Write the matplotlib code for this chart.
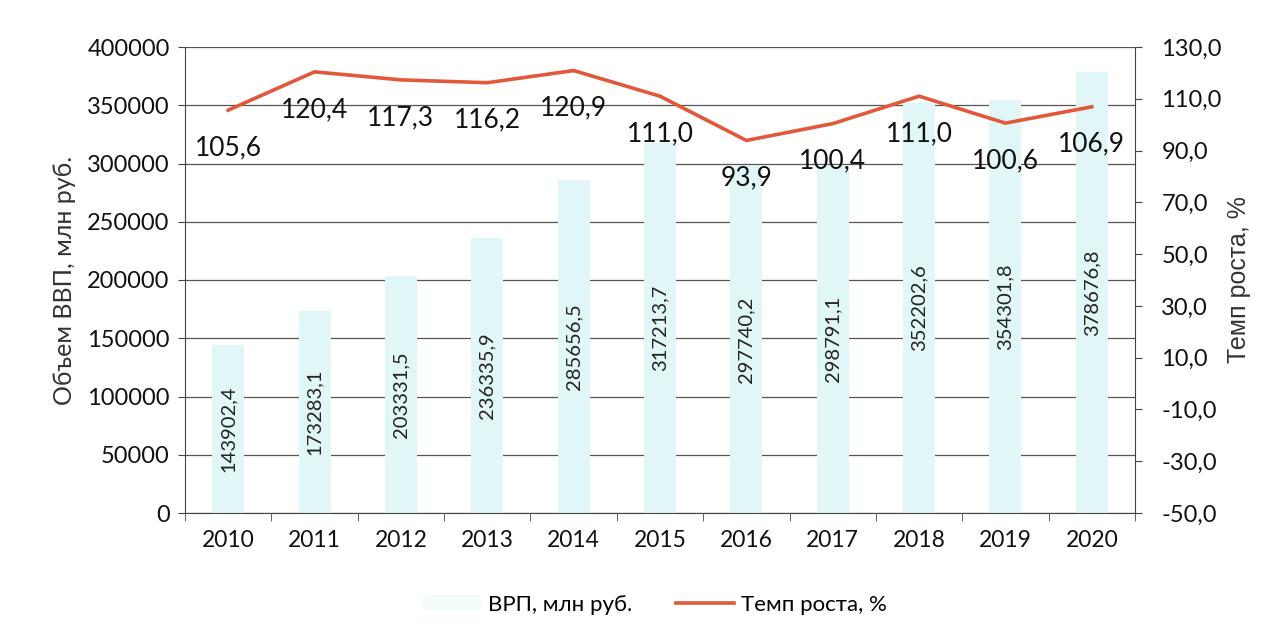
import matplotlib
matplotlib.use("Agg")
import matplotlib.pyplot as plt
import numpy as np

years = ["2010", "2011", "2012", "2013", "2014", "2015", "2016", "2017", "2018", "2019", "2020"]
grp = [143902.4, 173283.1, 203331.5, 236335.9, 285656.5, 317213.7, 297740.2, 298791.1, 352202.6, 354301.8, 378676.8]
growth = [105.6, 120.4, 117.3, 116.2, 120.9, 111.0, 93.9, 100.4, 111.0, 100.6, 106.9]

plt.rcParams['font.family'] = ['Lato', 'DejaVu Sans']

def fmt(v, d=1):
    return f"{v:.{d}f}".replace(".", ",")

fig = plt.figure(figsize=(12.82, 6.4), dpi=100)
ax = fig.add_axes([185/1282, 1-513/640, (1135-185)/1282, (513-47)/640])
x = np.arange(len(years))
bars = ax.bar(x, grp, width=0.37, color='#e0f6f7', zorder=2)
ax.set_ylim(0, 400000)
ax.set_xlim(-0.5, len(years)-0.5)
ax.set_yticks(np.arange(0, 400001, 50000))
ax.set_yticklabels([str(int(v)) for v in np.arange(0, 400001, 50000)], fontsize=17, color='#111111')
ax.yaxis.grid(True, color='#555555', linewidth=0.9, zorder=0)
ax.set_axisbelow(True)
for s in ['top', 'right']:
    ax.spines[s].set_visible(False)
ax.spines['left'].set_color('#444444')
ax.spines['bottom'].set_color('#444444')
ax.set_xticks(x)
ax.set_xticklabels(years, fontsize=16.5, color='#111111')
ax.tick_params(axis='x', length=0, pad=12)
ax.set_xticks(np.arange(-0.5, len(years), 1), minor=True)
ax.tick_params(axis='x', which='minor', length=6, color='#444444')
ax.tick_params(axis='y', length=5, color='#444444', pad=6)
ax.set_ylabel("Объем ВВП, млн руб.", fontsize=18, color='#333333', labelpad=8)

for xi, v in zip(x, grp):
    ax.text(xi, v/2, fmt(v), rotation=90, ha='center', va='center', fontsize=14.5, color='#222222', zorder=4)

ax2 = ax.twinx()
ax2.set_position(ax.get_position())
ax2.set_ylim(-50, 130)
ax2.set_yticks(np.arange(-50, 131, 20))
ax2.set_yticklabels([fmt(v) for v in np.arange(-50, 131, 20)], fontsize=17, color='#111111')
for s in ['top', 'left', 'bottom']:
    ax2.spines[s].set_visible(False)
ax2.spines['right'].set_color('#444444')
ax2.tick_params(axis='y', length=5, color='#444444', pad=14)
ax2.set_ylabel("Темп роста, %", fontsize=18, color='#333333', labelpad=4,
               family=['Liberation Sans', 'DejaVu Sans'])
line, = ax2.plot(x, growth, color='#e2583a', linewidth=2.6, zorder=5)
for xi, v in zip(x, growth):
    ax2.annotate(fmt(v), (xi, v), xytext=(0, -27), textcoords='offset points',
                 ha='center', va='center', fontsize=19, color='#111111')

from matplotlib.patches import Patch
handles = [Patch(facecolor='#f4fbfb', edgecolor='none'), line]
fig.legend(handles, ["ВРП, млн руб.", "Темп роста, %"], loc='center',
           bbox_to_anchor=(655/1282, 1-605/640), ncol=2, frameon=False,
           fontsize=16, handlelength=2.6, columnspacing=2.0, handletextpad=0.3)

fig.savefig("out.png", dpi=100)
